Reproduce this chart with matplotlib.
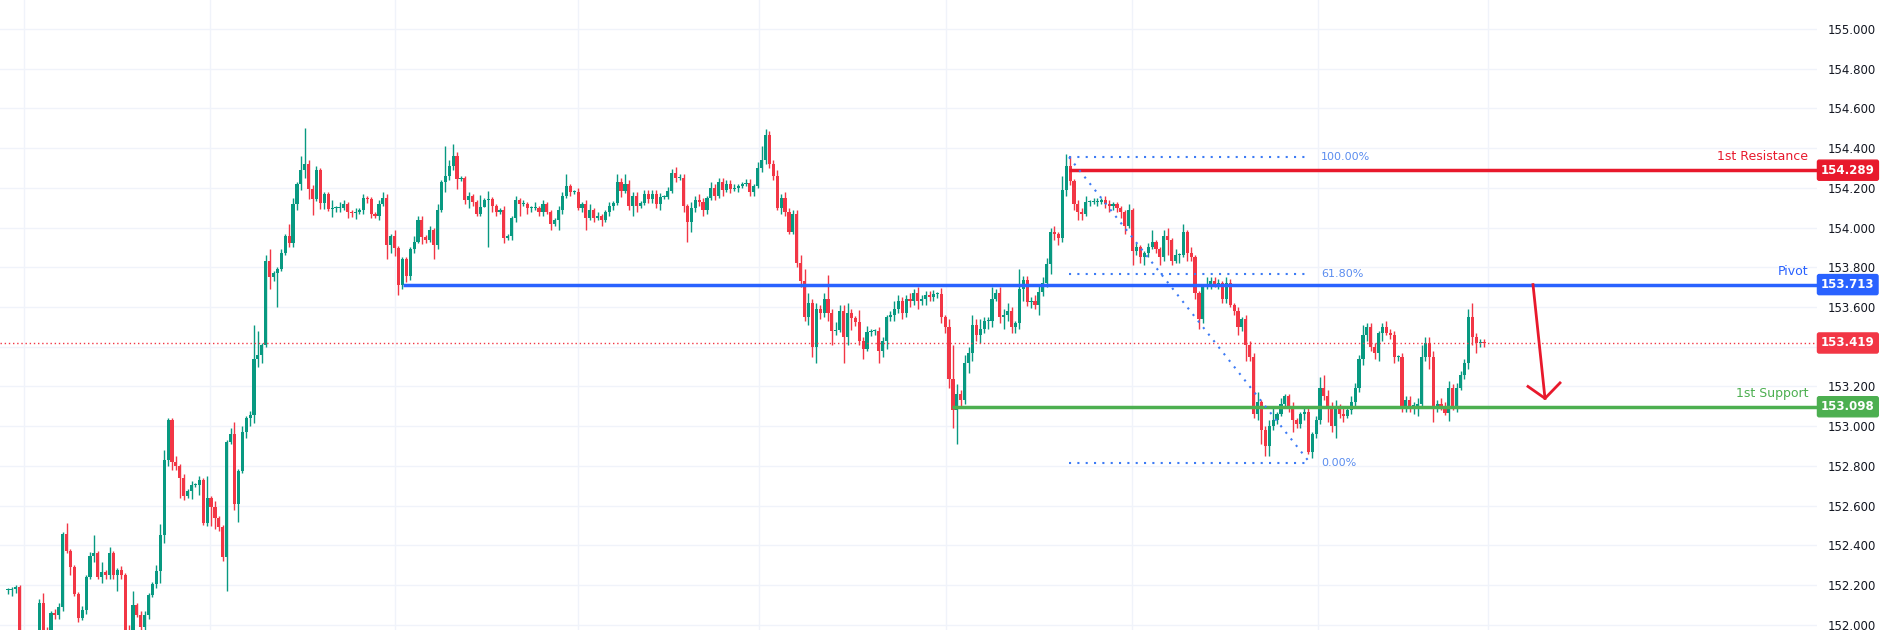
import matplotlib
matplotlib.use("Agg")
import matplotlib.pyplot as plt
from itertools import zip_longest

closes = [
152.175,152.18,152.19,151.95,151.90,151.93,151.88,151.92,152.11,151.97,
151.96,152.06,152.05,152.09,152.455,152.37,152.29,152.155,152.035,152.075,
152.24,152.345,152.36,152.24,152.265,152.25,152.36,152.25,152.275,152.25,
151.97,151.96,152.10,152.05,151.99,152.05,152.15,152.205,152.27,152.45,
152.83,153.03,152.82,152.80,152.74,152.65,152.675,152.705,152.705,152.73,
152.515,152.64,152.595,152.54,152.49,152.34,152.92,152.96,152.61,152.775,152.97,
153.04,153.055,153.34,153.36,153.41,153.83,153.75,153.77,153.79,153.87,
153.96,153.92,154.12,154.22,154.29,154.32,154.195,154.145,154.29,154.125,
154.17,154.095,154.10,154.10,154.10,154.12,154.08,154.075,154.08,154.09,
154.15,154.145,154.07,154.06,154.12,154.15,153.91,153.96,153.895,153.71,
153.84,153.755,153.89,153.93,154.04,153.955,153.94,153.99,153.91,154.09,
154.23,154.26,154.31,154.36,154.245,154.25,154.14,154.16,154.13,154.07,
154.105,154.14,154.145,154.11,
154.08,154.09,153.95,153.96,154.05,154.14,154.12,154.12,154.10,154.10,
154.10,154.08,154.12,154.08,154.02,154.04,154.09,154.16,154.21,154.18,154.18,
154.10,154.12,154.05,154.09,154.05,154.06,154.04,154.08,154.11,154.125,
154.23,154.185,154.22,154.11,154.16,154.11,154.125,154.17,154.145,154.17,
154.12,154.155,154.155,154.185,154.275,154.25,154.25,154.11,154.03,154.10,
154.14,154.13,154.09,154.15,154.20,154.16,154.23,154.19,154.22,154.195,
154.20,154.21,154.22,154.225,154.18,154.21,154.30,154.34,154.465,154.32,
154.26,154.10,154.15,154.08,153.98,154.07,153.82,153.73,153.55,153.62,
153.40,153.59,153.57,153.64,153.57,153.48,153.485,153.58,153.45,153.57,
153.545,153.525,153.43,153.39,153.475,153.48,153.48,153.38,153.43,153.55,
153.56,153.59,153.63,153.57,153.64,153.63,153.67,153.63,153.64,153.66,
153.65,153.665,153.665,153.55,153.50,153.24,153.08,153.16,153.13,153.32,
153.37,153.51,153.46,153.49,153.53,153.53,153.64,153.67,153.55,153.56,
153.58,153.50,153.52,153.69,153.735,153.625,153.63,153.61,153.675,153.72,
153.815,153.98,153.97,153.95,154.19,154.31,154.235,154.12,154.08,
154.07,154.13,154.13,154.13,154.13,154.14,154.12,154.11,154.12,154.10,
154.08,154.01,154.09,153.88,153.90,153.85,153.87,153.90,153.93,153.89,
153.85,153.96,153.94,153.83,153.86,153.86,153.98,153.87,153.85,153.67,
153.54,153.70,153.71,153.73,153.71,153.72,153.64,153.72,153.61,153.58,
153.50,153.54,153.41,153.35,153.06,153.12,152.98,152.90,153.00,153.03,
153.06,153.11,153.15,153.10,153.03,153.01,153.06,153.07,152.87,152.96,
153.03,153.19,153.15,153.10,153.00,153.10,153.06,153.05,153.08,153.12,
153.19,153.34,153.46,153.50,153.40,153.37,153.47,153.50,153.47,153.46,
153.35,153.35,153.10,153.13,153.10,153.10,153.11,153.35,153.42,153.35,
153.10,153.11,153.09,153.065,153.19,153.10,153.19,153.26,153.32,153.55,
153.45,153.42,153.42,153.419]

upper_wicks_str = (
"1 1 1 1 2 2 2 2 2 5 2 1 2 2 1 6 1 1 1 2 1 2 9 1 5 1 3 1 1 2 1 3 7 1 2 2 1 1 3 6 5 1 1 3 1 2 1 2 1 2 1 11 1 3 1 1 1 3 6 1 3 "
"1 2 17 12 1 3 6 1 1 2 1 6 3 1 7 18 2 2 2 1 1 1 4 1 3 2 1 1 2 1 2 1 1 1 2 3 2 1 3 1 1 1 1 3 2 2 1 2 1 3 1 15 3 6 2 1 1 2 1 1 6 1 4 1 "
"1 1 2 1 1 2 1 2 1 1 3 1 2 1 1 1 2 2 6 1 1 "
"2 1 2 3 1 2 1 1 2 1 4 2 5 2 2 2 1 2 2 2 2 2 1 2 2 3 2 2 1 3 2 3 2 1 3 2 2 2 2 2 2 1 1 2 2 1 3 7 3 2 2 3 2 3 2 2 2 4 6 5 "
"2 3 2 3 12 2 4 3 3 5 2 1 6 2 3 1 1 2 2 1 2 4 3 2 2 3 2 3 2 2 2 2 1 3 1 4 17 5 2 4 3 5 3 5 2 2 6 2 3 3 4 2 1 10 2 2 2 3 4 3 3 2 3 1 7 6 5 1 2 "
"2 3 1 2 2 1 2 2 1 1 1 1 3 1 2 1 1 2 6 1 1 3 4 1 3 1 4 1 3 1 1 1 4 2 2 2 1 3 2 1 2 1 2 2 2 5 1 2 3 7 1 3 1 1 2 1 1 2 2 1 "
"2 6 7 3 2 3 1 3 2 3 3 2 5 2 2 2 1 2 3 2 2 1 2 2 2 2 3 6 3 3 3 2 3 3 4 2 3 2 2 4 7 2 2 2")
lower_wicks_str = (
"2 3 2 2 3 2 2 3 3 2 2 2 2 2 2 1 4 1 2 1 2 1 3 1 3 2 2 2 8 2 1 2 3 1 3 2 2 1 2 6 4 3 4 2 10 2 1 4 1 5 1 2 10 6 2 2 17 1 3 9 1 "
"3 4 4 4 4 1 6 2 17 1 1 2 2 3 3 4 5 8 1 3 3 1 4 2 2 1 3 2 3 1 2 2 2 1 2 1 7 4 4 5 2 3 2 2 1 4 2 1 7 2 1 5 2 2 5 1 2 4 2 1 1 0 24 3 "
"2 1 3 1 2 2 6 1 3 2 1 2 2 1 3 1 5 2 1 2 1 "
"1 2 6 1 2 1 3 1 2 2 1 3 1 2 5 3 1 1 2 2 2 3 1 1 1 2 1 3 10 5 2 2 3 2 1 2 1 3 1 2 1 2 1 1 2 2 1 2 2 2 2 1 3 2 1 1 2 3 2 4 "
"5 8 3 2 4 7 2 1 13 4 6 2 2 5 1 2 2 6 3 4 2 3 2 3 2 3 2 4 2 3 2 2 2 3 3 5 9 17 4 2 5 4 3 4 2 4 3 1 3 6 3 3 3 3 6 2 3 2 5 2 2 5 3 4 2 3 2 3 4 "
"3 1 2 1 2 1 2 3 2 2 3 4 1 7 2 3 4 2 1 2 4 2 8 2 1 4 1 4 2 3 5 2 1 2 1 2 2 2 1 2 4 2 8 2 2 3 7 5 5 2 2 1 2 3 6 2 2 3 1 3 "
"2 2 2 8 3 6 2 3 1 2 2 2 3 3 2 3 4 4 1 2 3 2 3 3 3 4 5 2 2 6 8 3 1 1 4 2 3 1 2 3 4 5 2 2")
upper_wicks = [int(v) for v in upper_wicks_str.split()]
lower_wicks = [int(v) for v in lower_wicks_str.split()]

yticks = [152.0, 152.2, 152.4, 152.6, 152.8, 153.0, 153.2, 153.4, 153.6, 153.8, 154.0, 154.2, 154.4, 154.6, 154.8, 155.0]
hidden_tick = 153.4  # covered by the last-price tag
resistance, pivot, support, last_price = 154.289, 153.713, 153.098, 153.419
fib_top, fib_618, fib_bottom = 154.355, 153.766, 152.815
arrow_start, arrow_end = 153.713, 153.14

GREEN, RED = "#089981", "#f23645"
W, H = 1885, 630
fig = plt.figure(figsize=(W/100, H/100), dpi=100)
plot_w = 1817
ax = fig.add_axes([0, 0, plot_w/W, 1])

N = len(closes)
first_px, last_px = 8, 1484
ppc = (last_px - first_px) / (N - 1)
def px(p):
    return (p - first_px) / ppc

ax.set_xlim(px(0), px(plot_w))
ymin = 155 - (H - 29) / 198.6
ymax = 155 + 29 / 198.6
ax.set_ylim(ymin, ymax)

for v in yticks:
    ax.axhline(v, color="#f0f3fa", lw=1, zorder=0)
for gx in [24, 210, 395, 578, 759, 946, 1132, 1318, 1488]:
    ax.axvline(px(gx), color="#f0f3fa", lw=1, zorder=0)

prev = closes[0]
for i, (c, uw, lw) in enumerate(zip_longest(closes, upper_wicks, lower_wicks, fillvalue=1)):
    if c is None:
        break
    o = prev
    col = GREEN if c >= o else RED
    hi = max(o, c) + uw / 100
    lo = min(o, c) - lw / 100
    ax.vlines(i, lo, hi, color=col, lw=1.0, zorder=2)
    body = max(abs(c - o), 0.005)
    ax.bar(i, body, bottom=min(o, c), width=0.8, color=col, lw=0, zorder=3)
    prev = c

ax.hlines(last_price, px(0), px(plot_w), color=RED, lw=1, linestyles=(0, (1, 2)), zorder=4)
ax.hlines(resistance, px(1069), px(plot_w), color="#e8192c", lw=2.5, zorder=5)
ax.hlines(pivot, px(403), px(plot_w), color="#2962ff", lw=2.5, zorder=5)
ax.hlines(support, px(952), px(plot_w), color="#4caf50", lw=2.5, zorder=5)

fibc = "#3d7bf5"
for lvl, lab in [(fib_top, "100.00%"), (fib_618, "61.80%"), (fib_bottom, "0.00%")]:
    ax.hlines(lvl, px(1069), px(1310), color=fibc, lw=1.5, linestyles=(0, (1, 3)), zorder=6)
    ax.text(px(1321), lvl, lab, color="#5b8def", fontsize=8, va="center", ha="left")
ax.plot([px(1069), px(1310)], [fib_top, fib_bottom], color=fibc, lw=1.5, ls=(0, (1, 3)), zorder=6)

ax.plot([px(1533), px(1545)], [arrow_start, arrow_end], color="#e8192c", lw=2, zorder=7)
ax.plot([px(1528), px(1545), px(1560)], [153.20, arrow_end, 153.218], color="#e8192c", lw=2, zorder=7)

for lvl, lab, col in [(resistance, "1st Resistance", "#e8192c"), (pivot, "Pivot", "#2962ff"), (support, "1st Support", "#4caf50")]:
    ax.text(px(1808), lvl + 0.035, lab, color=col, fontsize=9, ha="right", va="bottom")

ax.set_xticks([])
ax.set_yticks(yticks)
ax.set_yticklabels(["" if v == hidden_tick else f"{v:.3f}" for v in yticks])
ax.yaxis.tick_right()
ax.tick_params(axis="y", length=0, pad=8, labelsize=8.5, labelcolor="#131722")
for s in ax.spines.values():
    s.set_visible(False)

for lvl, col in [(resistance, "#e8192c"), (pivot, "#2962ff"), (last_price, RED), (support, "#4caf50")]:
    ax.text(1.0 + 4 / plot_w, lvl, f"{lvl:.3f}", transform=ax.get_yaxis_transform(), color="white",
            fontsize=8.5, fontweight="bold", va="center", ha="left", zorder=10,
            bbox=dict(boxstyle="round,pad=0.3,rounding_size=0.15", fc=col, ec=col), clip_on=False)

fig.savefig("out.png", dpi=100, facecolor="white")
